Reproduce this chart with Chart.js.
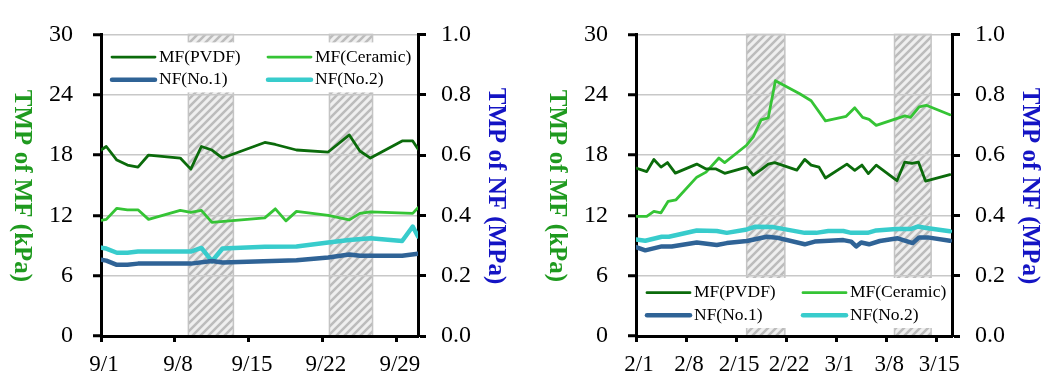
<!DOCTYPE html>
<html lang="en">
<head>
<meta charset="UTF-8">
<title>TMP of MF and NF</title>
<script src="https://cdn.jsdelivr.net/npm/chart.js"></script>
<style>
  body { margin: 0; background: #fff; }
  #wrap { position: relative; width: 1043px; height: 374px; }
  canvas { position: absolute; top: 0; }
  #c1 { left: 0; }
  #c2 { left: 520px; }
</style>
</head>
<body>
<div id="wrap">
  <canvas id="c1" width="520" height="374"></canvas>
  <canvas id="c2" width="523" height="374"></canvas>
</div>
<script>
// ---- left panel: September, x = days after 9/1 ----
const sepTickDays = [0, 7, 14, 21, 28];
const sepTickLabels = ['9/1', '9/8', '9/15', '9/22', '9/29'];
const sepOffStart = [8.27, 21.62];
const sepOffEnd = [12.53, 25.7];

const sepPvdfDays = [0, 0.5, 1.5, 2.5, 3.5, 4.5, 7.5, 8.5, 9.5, 10.5, 11.5, 15.5, 16.5, 18.5, 21.5, 23.5, 24.5, 25.5, 28.5, 29.5, 30];
const sepPvdfTmp = [18.5, 18.85, 17.5, 17.0, 16.8, 18.0, 17.7, 16.6, 18.85, 18.5, 17.7, 19.25, 19.05, 18.5, 18.3, 20.0, 18.4, 17.7, 19.4, 19.4, 18.6];

const sepCeramicDays = [0, 0.5, 1.5, 2.5, 3.5, 4.5, 7.5, 8.5, 9.5, 10.5, 15.5, 16.5, 17.5, 18.5, 21.5, 23.5, 24.5, 25.5, 29.5, 30];
const sepCeramicTmp = [11.5, 11.6, 12.7, 12.55, 12.55, 11.6, 12.5, 12.3, 12.5, 11.3, 11.75, 12.65, 11.45, 12.4, 12.0, 11.55, 12.2, 12.35, 12.2, 12.75];

const sepNf1Days = [0, 0.5, 1.5, 2.5, 3.5, 8.5, 10.5, 11.5, 18.5, 21.5, 23.5, 24.5, 28.5, 30];
const sepNf1Tmp = [0.253, 0.25, 0.236, 0.236, 0.24, 0.24, 0.249, 0.244, 0.251, 0.26, 0.27, 0.266, 0.266, 0.273];

const sepNf2Days = [0, 0.5, 1.5, 2.5, 3.5, 8.5, 9.5, 10.5, 11.5, 15.5, 18.5, 21.5, 23.5, 25.5, 28.5, 29.5, 30];
const sepNf2Tmp = [0.293, 0.29, 0.276, 0.276, 0.28, 0.28, 0.292, 0.248, 0.29, 0.296, 0.297, 0.31, 0.318, 0.324, 0.315, 0.363, 0.33];

// ---- right panel: February-March, x = days after 2/1 ----
const febTickDays = [0, 7, 14, 21, 28, 35, 42];
const febTickLabels = ['2/1', '2/8', '2/15', '2/22', '3/1', '3/8', '3/15'];
const febOffStart = [15.48, 36.16];
const febOffEnd = [20.82, 41.28];

const febPvdfDays = [0, 1.5, 2.5, 3.5, 4.4, 5.5, 8.5, 9.8, 11.2, 12.4, 15.5, 16.4, 17.6, 18.5, 19.4, 22.5, 23.6, 24.5, 25.6, 26.5, 29.5, 30.6, 31.6, 32.5, 33.6, 36.5, 37.6, 38.6, 39.5, 40.5, 43.9];
const febPvdfTmp = [16.7, 16.35, 17.55, 16.8, 17.25, 16.2, 17.1, 16.62, 16.62, 16.18, 16.8, 16.0, 16.6, 17.1, 17.24, 16.5, 17.57, 17.0, 16.8, 15.72, 17.1, 16.48, 17.0, 16.15, 17.0, 15.45, 17.3, 17.17, 17.3, 15.41, 16.05];

const febCeramicDays = [0, 1.5, 2.5, 3.5, 4.5, 5.6, 8.5, 9.8, 11.6, 12.4, 15.5, 16.4, 17.5, 18.5, 19.5, 22.9, 24.5, 26.5, 29.4, 30.6, 31.7, 32.6, 33.6, 37.6, 38.4, 39.6, 40.6, 43.9];
const febCeramicTmp = [11.9, 11.9, 12.4, 12.25, 13.4, 13.55, 15.8, 16.3, 17.7, 17.25, 19.0, 19.8, 21.5, 21.7, 25.4, 24.1, 23.4, 21.4, 21.85, 22.7, 21.75, 21.55, 20.95, 21.9, 21.75, 22.8, 22.95, 22.0];

const febNf1Days = [0, 1.3, 3.6, 5.0, 8.5, 11.3, 12.7, 15.5, 18.3, 19.7, 23.6, 25.0, 29.0, 30.1, 30.8, 31.5, 32.6, 34.1, 36.6, 38.7, 39.6, 40.8, 43.9];
const febNf1Tmp = [0.295, 0.284, 0.297, 0.297, 0.31, 0.302, 0.308, 0.315, 0.329, 0.326, 0.304, 0.313, 0.318, 0.313, 0.297, 0.31, 0.304, 0.315, 0.324, 0.308, 0.327, 0.327, 0.316];

const febNf2Days = [0, 1.3, 3.6, 4.6, 8.5, 11.3, 12.7, 15.3, 16.6, 19.2, 23.6, 25.2, 26.9, 29.0, 30.1, 32.4, 33.6, 36.4, 38.5, 39.4, 40.6, 43.9];
const febNf2Tmp = [0.32, 0.316, 0.329, 0.329, 0.35, 0.348, 0.342, 0.352, 0.362, 0.361, 0.342, 0.342, 0.348, 0.348, 0.342, 0.342, 0.35, 0.355, 0.355, 0.363, 0.358, 0.347];

const FONT = "'Times New Roman', 'Liberation Serif', serif";

function toPoints(days, vals) {
    return days.map((d, i) => ({ x: d, y: vals[i] }));
}

// grey diagonal hatch used for the shaded periods
function makeHatch() {
    const c = document.createElement('canvas');
    c.width = 8; c.height = 8;
    const g = c.getContext('2d');
    g.fillStyle = '#efefef';
    g.fillRect(0, 0, 8, 8);
    g.strokeStyle = '#bcbcbc';
    g.lineWidth = 2.5;
    g.beginPath();
    g.moveTo(-2, 10); g.lineTo(10, -2);
    g.moveTo(-2, 2); g.lineTo(2, -2);
    g.moveTo(6, 10); g.lineTo(10, 6);
    g.stroke();
    return g.createPattern(c, 'repeat');
}
const hatch = makeHatch();

const offPeriods = {
    id: 'offPeriods',
    beforeDraw(chart, args, opts) {
        const { ctx, scales } = chart;
        const top = scales.y.getPixelForValue(30), bot = scales.y.getPixelForValue(0);
        ctx.save();
        opts.starts.forEach((s, i) => {
            const x1 = scales.x.getPixelForValue(s);
            const x2 = scales.x.getPixelForValue(opts.ends[i]);
            ctx.fillStyle = hatch;
            ctx.fillRect(x1, top, x2 - x1, bot - top);
            ctx.strokeStyle = '#c4c4c4';
            ctx.lineWidth = 1.5;
            ctx.strokeRect(x1, top, x2 - x1, bot - top);
        });
        ctx.restore();
    }
};

const boxLegend = {
    id: 'boxLegend',
    afterDraw(chart, args, opts) {
        const { ctx, chartArea } = chart;
        const boxTop = opts.at === 'top' ? chartArea.top + 8 : chartArea.bottom - 58;
        ctx.save();
        ctx.fillStyle = '#fff';
        ctx.fillRect(chartArea.left + 3, boxTop, chartArea.right - chartArea.left - 6, 50);
        ctx.font = '17.5px ' + FONT;
        ctx.textBaseline = 'middle';
        ctx.fillStyle = '#000';
        chart.data.datasets.forEach((ds, i) => {
            const col = i % 2, row = Math.floor(i / 2);
            const x0 = chartArea.left + (col ? 167 : 11);
            const y0 = boxTop + (row ? 37.3 : 14.7);
            ctx.strokeStyle = ds.borderColor;
            ctx.lineWidth = ds.borderWidth;
            ctx.lineCap = 'round';
            ctx.beginPath();
            ctx.moveTo(x0, y0);
            ctx.lineTo(x0 + 43, y0);
            ctx.stroke();
            ctx.fillText(ds.label, x0 + 47, y0);
        });
        ctx.restore();
    }
};

const axisTitles = {
    id: 'axisTitles',
    afterDraw(chart) {
        const { ctx, chartArea } = chart;
        const drawRotated = (text, x, color) => {
            ctx.save();
            ctx.translate(x, 186);
            ctx.rotate(Math.PI / 2);
            ctx.font = 'bold 25px ' + FONT;
            ctx.fillStyle = color;
            ctx.textAlign = 'center';
            ctx.textBaseline = 'middle';
            ctx.fillText(text, 0, 0);
            ctx.restore();
        };
        drawRotated('TMP of MF (kPa)', chartArea.left - 80, '#1f9a1f');
        drawRotated('TMP of NF (MPa)', chartArea.right + 77, '#1414c4');
    }
};

function buildChart(id, p) {
    const tickFont = { family: FONT, size: 24 };
    return new Chart(document.getElementById(id), {
        type: 'line',
        data: {
            datasets: [
                { label: 'MF(PVDF)', data: toPoints(p.pvdfDays, p.pvdfTmp), borderColor: '#0b6b0b', borderWidth: 2.8, yAxisID: 'y' },
                { label: 'MF(Ceramic)', data: toPoints(p.ceramicDays, p.ceramicTmp), borderColor: '#35c435', borderWidth: 2.8, yAxisID: 'y' },
                { label: 'NF(No.1)', data: toPoints(p.nf1Days, p.nf1Tmp), borderColor: '#2f6396', borderWidth: 4.5, yAxisID: 'y2' },
                { label: 'NF(No.2)', data: toPoints(p.nf2Days, p.nf2Tmp), borderColor: '#38cccc', borderWidth: 4.5, yAxisID: 'y2' }
            ]
        },
        options: {
            responsive: false,
            animation: false,
            devicePixelRatio: 1,
            layout: { padding: { top: 24, left: 0, right: 0, bottom: 0 } },
            elements: {
                point: { radius: 0 },
                line: { tension: 0, borderJoinStyle: 'round', borderCapStyle: 'round' }
            },
            plugins: {
                legend: { display: false },
                tooltip: { enabled: false },
                offPeriods: { starts: p.offStart, ends: p.offEnd },
                boxLegend: { at: p.legendAt }
            },
            scales: {
                x: {
                    type: 'linear', min: 0, max: p.xMax,
                    afterBuildTicks: s => { s.ticks = p.tickDays.map(v => ({ value: v })); },
                    afterFit: s => { s.height = 38; },
                    grid: { drawOnChartArea: false, tickColor: '#000', tickLength: 6, tickWidth: 3 },
                    border: { color: '#000', width: 3 },
                    ticks: {
                        autoSkip: false, maxRotation: 0, padding: 9, labelOffset: 3,
                        color: '#000', font: { family: FONT, size: 23 },
                        callback: (v, i) => p.tickLabels[i]
                    }
                },
                y: {
                    position: 'left', min: 0, max: 30,
                    afterFit: s => { s.width = p.leftWidth; },
                    grid: {
                        color: c => (c.tick && c.tick.value === 0) ? 'rgba(0,0,0,0)' : '#c8c8c8',
                        lineWidth: 1.5, tickColor: '#000', tickLength: 8, tickWidth: 3
                    },
                    border: { color: '#000', width: 3 },
                    ticks: { stepSize: 6, padding: 20, color: '#000', font: tickFont }
                },
                y2: {
                    position: 'right', min: 0, max: 1,
                    afterFit: s => { s.width = p.rightWidth; },
                    grid: { drawOnChartArea: false, tickColor: '#000', tickLength: 8, tickWidth: 3 },
                    border: { color: '#000', width: 3 },
                    ticks: { stepSize: 0.2, padding: 15, color: '#000', font: tickFont, callback: v => v.toFixed(1) }
                }
            }
        },
        plugins: [offPeriods, boxLegend, axisTitles]
    });
}

buildChart('c1', {
    xMax: 30, tickDays: sepTickDays, tickLabels: sepTickLabels,
    offStart: sepOffStart, offEnd: sepOffEnd,
    pvdfDays: sepPvdfDays, pvdfTmp: sepPvdfTmp,
    ceramicDays: sepCeramicDays, ceramicTmp: sepCeramicTmp,
    nf1Days: sepNf1Days, nf1Tmp: sepNf1Tmp,
    nf2Days: sepNf2Days, nf2Tmp: sepNf2Tmp,
    leftWidth: 101, rightWidth: 102, legendAt: 'top'
});

buildChart('c2', {
    xMax: 44.2, tickDays: febTickDays, tickLabels: febTickLabels,
    offStart: febOffStart, offEnd: febOffEnd,
    pvdfDays: febPvdfDays, pvdfTmp: febPvdfTmp,
    ceramicDays: febCeramicDays, ceramicTmp: febCeramicTmp,
    nf1Days: febNf1Days, nf1Tmp: febNf1Tmp,
    nf2Days: febNf2Days, nf2Tmp: febNf2Tmp,
    leftWidth: 116, rightWidth: 91, legendAt: 'bottom'
});
</script>
</body>
</html>
